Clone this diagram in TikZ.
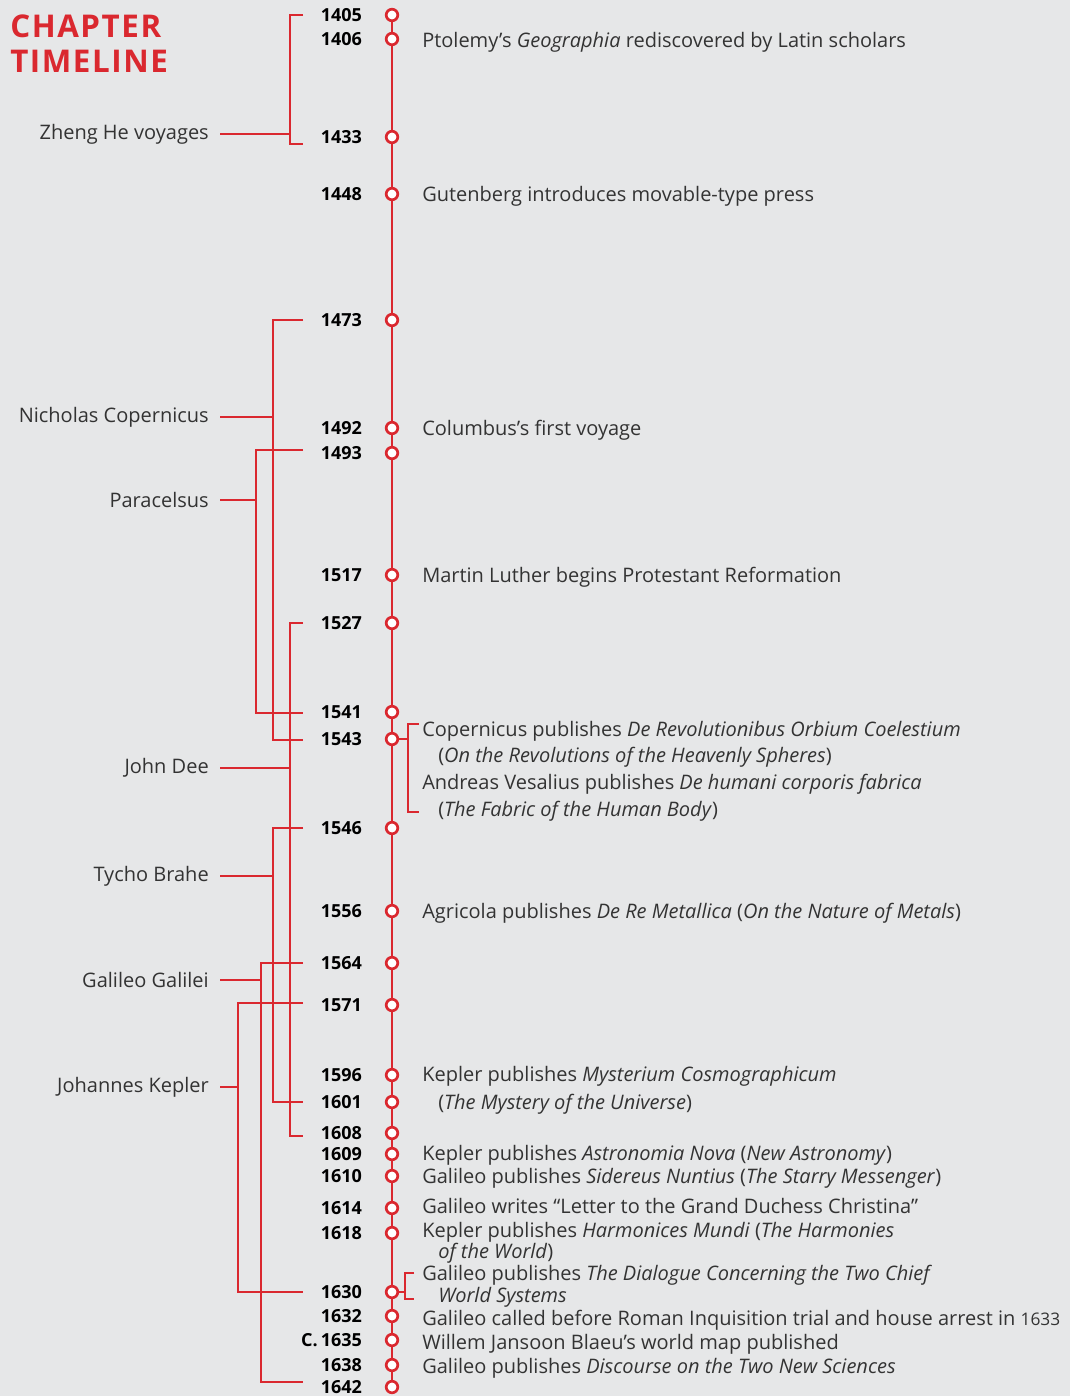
\documentclass[tikz,border=0pt]{standalone}
\usepackage{fontspec}
\setmainfont{Open Sans}
\usetikzlibrary{positioning}
\definecolor{tlred}{HTML}{DA282F}
\definecolor{tlbg}{HTML}{E6E7E8}
\definecolor{ink}{HTML}{333333}

\begin{document}
\begin{tikzpicture}[
  x=0.75pt, y=-0.75pt,
  label distance=17pt,
  dot/.style={circle, draw=tlred, line width=2pt, fill=white, minimum size=8.7pt, inner sep=0pt},
  yr/.style={font=\fontsize{13.5}{15}\selectfont\bfseries, text=black, inner sep=0pt},
  ev/.style={anchor=base west, inner sep=0pt, align=left, font=\fontsize{15}{20}\selectfont, text=ink},
  who/.style={anchor=east, inner xsep=8.25pt, inner ysep=0pt, font=\fontsize{15}{20}\selectfont, text=ink},
  axis/.style={draw=tlred, line width=1.5pt},
  life/.style={draw=tlred, line width=1.1pt}
]
\fill[tlbg] (0,0) rectangle (1070,1396);
\useasboundingbox (0,0) rectangle (1070,1396);

\node[anchor=north west, inner sep=0pt, align=left, text=tlred,
  font=\fontsize{23.5}{26.25}\selectfont\bfseries\addfontfeature{LetterSpace=5}] (title) at (10,15) {CHAPTER\\TIMELINE};

% dates on the time line
\node[dot, label={[yr]left:1405}] (d1405) at (392,15) {};
\node[dot, label={[yr]left:1406}] (d1406) at (392,39) {};
\node[dot, label={[yr]left:1433}] (d1433) at (392,137) {};
\node[dot, label={[yr]left:1448}] (d1448) at (392,194) {};
\node[dot, label={[yr]left:1473}] (d1473) at (392,320) {};
\node[dot, label={[yr]left:1492}] (d1492) at (392,428) {};
\node[dot, label={[yr]left:1493}] (d1493) at (392,453) {};
\node[dot, label={[yr]left:1517}] (d1517) at (392,575) {};
\node[dot, label={[yr]left:1527}] (d1527) at (392,623) {};
\node[dot, label={[yr]left:1541}] (d1541) at (392,712) {};
\node[dot, label={[yr]left:1543}] (d1543) at (392,739) {};
\node[dot, label={[yr]left:1546}] (d1546) at (392,828) {};
\node[dot, label={[yr]left:1556}] (d1556) at (392,911) {};
\node[dot, label={[yr]left:1564}] (d1564) at (392,963) {};
\node[dot, label={[yr]left:1571}] (d1571) at (392,1005) {};
\node[dot, label={[yr]left:1596}] (d1596) at (392,1075) {};
\node[dot, label={[yr]left:1601}] (d1601) at (392,1102) {};
\node[dot, label={[yr]left:1608}] (d1608) at (392,1133) {};
\node[dot, label={[yr]left:1609}] (d1609) at (392,1154) {};
\node[dot, label={[yr]left:1610}] (d1610) at (392,1176) {};
\node[dot, label={[yr]left:1614}] (d1614) at (392,1208) {};
\node[dot, label={[yr]left:1618}] (d1618) at (392,1233) {};
\node[dot, label={[yr]left:1630}] (d1630) at (392,1292) {};
\node[dot, label={[yr]left:1632}] (d1632) at (392,1316) {};
\node[dot, label={[yr]left:C.\,1635}] (d1635) at (392,1340) {};
\node[dot, label={[yr]left:1638}] (d1638) at (392,1365) {};
\node[dot, label={[yr]left:1642}] (d1642) at (392,1387) {};
\draw[axis] (d1405) -- (d1406) -- (d1433) -- (d1448) -- (d1473) -- (d1492) -- (d1493)
  -- (d1517) -- (d1527) -- (d1541) -- (d1543) -- (d1546) -- (d1556) -- (d1564)
  -- (d1571) -- (d1596) -- (d1601) -- (d1608) -- (d1609) -- (d1610) -- (d1614)
  -- (d1618) -- (d1630) -- (d1632) -- (d1635) -- (d1638) -- (d1642);

% events (base = last line)
\node[ev] (e1406) at (422,47) {Ptolemy’s \textit{Geographia} rediscovered by Latin scholars};
\node[ev] (e1448) at (422,201) {Gutenberg introduces movable-type press};
\node[ev] (e1492) at (422,435) {Columbus’s first voyage};
\node[ev] (e1517) at (422,582) {Martin Luther begins Protestant Reformation};
\node[ev, font=\fontsize{15}{20}\selectfont] (e1543) at (422,816) {Copernicus publishes \textit{De Revolutionibus Orbium Coelestium}\\
  \hspace*{12pt}(\textit{On the Revolutions of the Heavenly Spheres})\\
  Andreas Vesalius publishes \textit{De humani corporis fabrica}\\
  \hspace*{12pt}(\textit{The Fabric of the Human Body})};
\node[ev] (e1556) at (422,918) {Agricola publishes \textit{De Re Metallica} (\textit{On the Nature of Metals})};
\node[ev, font=\fontsize{15}{20.3}\selectfont] (e1596) at (422,1109) {Kepler publishes \textit{Mysterium Cosmographicum}\\
  \hspace*{12pt}(\textit{The Mystery of the Universe})};
\node[ev] (e1609) at (422,1160) {Kepler publishes \textit{Astronomia Nova} (\textit{New Astronomy})};
\node[ev] (e1610) at (422,1183) {Galileo publishes \textit{Sidereus Nuntius} (\textit{The Starry Messenger})};
\node[ev] (e1614) at (422,1213) {Galileo writes “Letter to the Grand Duchess Christina”};
\node[ev, font=\fontsize{15}{15.75}\selectfont] (e1618) at (422,1258) {Kepler publishes \textit{Harmonices Mundi} (\textit{The Harmonies}\\
  \hspace*{12pt}\textit{of the World})};
\node[ev, font=\fontsize{15}{16.5}\selectfont] (e1630) at (422,1302) {Galileo publishes \textit{The Dialogue Concerning the Two Chief}\\
  \hspace*{12pt}\textit{World Systems}};
\node[ev] (e1632) at (422,1325) {Galileo called before Roman Inquisition trial and house arrest in {\fontsize{13}{15}\selectfont 1633}};
\node[ev] (e1635) at (422,1349) {Willem Jansoon Blaeu’s world map published};
\node[ev] (e1638) at (422,1373) {Galileo publishes \textit{Discourse on the Two New Sciences}};

% brackets on the right
\coordinate (b43-top) at (408,724);
\coordinate (b43-bot) at (408,812);
\draw[life] (b43-top) ++(11,0) -- (b43-top) -- (b43-bot) -- ++(11,0);
\draw[life] (d1543) -- (d1543 -| b43-top);
\coordinate (b30-top) at (405,1273);
\coordinate (b30-bot) at (405,1299);
\draw[life] (b30-top) ++(9,0) -- (b30-top) -- (b30-bot) -- ++(9,0);
\draw[life] (d1630) -- (d1630 -| b30-top);

% lifetimes
\coordinate (tick) at (303,0);
\node[who] (zheng) at (220,134) {Zheng He voyages};
\coordinate (zh-top) at (290,15);
\coordinate (zh-bot) at (290,144);
\draw[life] (zh-top -| tick) -- (zh-top) -- (zh-bot) -- (zh-bot -| tick);
\draw[life] (zheng) -- (zheng -| zh-top);

\node[who] (cop) at (220,417) {Nicholas Copernicus};
\coordinate (cop-top) at (273,320);
\coordinate (cop-bot) at (273,740);
\draw[life] (cop-top -| tick) -- (cop-top) -- (cop-bot) -- (cop-bot -| tick);
\draw[life] (cop) -- (cop -| cop-top);

\node[who] (para) at (220,500) {Paracelsus};
\coordinate (para-top) at (256,450);
\coordinate (para-bot) at (256,713);
\draw[life] (para-top -| tick) -- (para-top) -- (para-bot) -- (para-bot -| tick);
\draw[life] (para) -- (para -| para-top);

\node[who] (dee) at (220,768) {John Dee};
\coordinate (dee-top) at (290,623);
\coordinate (dee-bot) at (290,1136);
\draw[life] (dee-top -| tick) -- (dee-top) -- (dee-bot) -- (dee-bot -| tick);
\draw[life] (dee) -- (dee -| dee-top);

\node[who] (tycho) at (220,876) {Tycho Brahe};
\coordinate (ty-top) at (273,828);
\coordinate (ty-bot) at (273,1102);
\draw[life] (ty-top -| tick) -- (ty-top) -- (ty-bot) -- (ty-bot -| tick);
\draw[life] (tycho) -- (tycho -| ty-top);

\node[who] (gal) at (220,980) {Galileo Galilei};
\coordinate (gal-top) at (261,963);
\coordinate (gal-bot) at (261,1382);
\draw[life] (gal-top -| tick) -- (gal-top) -- (gal-bot) -- (gal-bot -| tick);
\draw[life] (gal) -- (gal -| gal-top);

\node[who] (kep) at (220,1087) {Johannes Kepler};
\coordinate (kep-top) at (238,1003);
\coordinate (kep-bot) at (238,1292);
\draw[life] (kep-top -| tick) -- (kep-top) -- (kep-bot) -- (kep-bot -| tick);
\draw[life] (kep) -- (kep -| kep-top);
\end{tikzpicture}
\end{document}
